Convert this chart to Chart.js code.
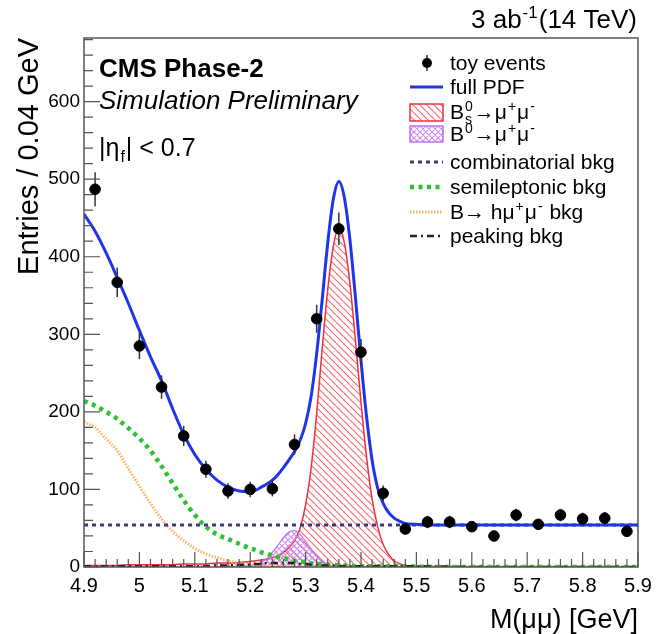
<!DOCTYPE html>
<html>
<head>
<meta charset="utf-8">
<script src="https://cdn.jsdelivr.net/npm/chart.js@4/dist/chart.umd.min.js"></script>
<style>
  html, body { margin: 0; padding: 0; background: #fff; }
  #plot { display: block; }
</style>
</head>
<body>
<canvas id="plot" width="663" height="634"></canvas>
<script>
// ── Daten ────────────────────────────────────────────────────────────────────

// Toy-Events: Bin-Mitten (Bins 0.04 GeV) und Eintraege
const eventMass = [4.92, 4.96, 5.00, 5.04, 5.08, 5.12, 5.16, 5.20, 5.24, 5.28, 5.32, 5.36, 5.40,
                   5.44, 5.48, 5.52, 5.56, 5.60, 5.64, 5.68, 5.72, 5.76, 5.80, 5.84, 5.88];
const eventCounts = [487, 367, 285, 232, 169, 126, 98, 100, 101, 158, 320, 436, 277,
                     95, 49, 58, 58, 52, 40, 67, 55, 67, 62, 63, 46];
const eventErrors = [22, 19, 17, 15, 13, 11, 10, 10, 10, 13, 18, 21, 17,
                     10, 7, 8, 8, 7, 6, 8, 7, 8, 8, 8, 7];

// Stuetzstellen der PDF-Kurven
const massGrid = [4.90, 4.92, 4.94, 4.96, 4.98, 5.00, 5.02, 5.04, 5.06, 5.08, 5.10, 5.12, 5.14, 5.16, 5.18, 5.20,
                  5.21, 5.22, 5.23, 5.24, 5.25, 5.26, 5.27, 5.28, 5.29, 5.30, 5.31, 5.32, 5.33, 5.34,
                  5.35, 5.36, 5.37, 5.38, 5.39, 5.40, 5.41, 5.42, 5.43, 5.44, 5.45, 5.46, 5.47, 5.48,
                  5.50, 5.55, 5.60, 5.70, 5.80, 5.90];

const fullPdf = [455, 433, 405, 373, 340, 305, 271, 240, 204, 171, 145, 126, 112, 103, 98, 97,
                 99, 103, 107, 112, 119, 128, 138, 149, 163, 185, 220, 275, 345, 418,
                 474, 497, 476, 422, 347, 266, 194, 138, 102, 82, 70, 63, 59, 56,
                 55, 54, 54, 54, 54, 54];

const bsSignal = [2, 2, 2, 2, 3, 3, 3, 3, 3, 4, 4, 4, 5, 5, 6, 7,
                  8, 9, 10, 12, 15, 19, 25, 34, 50, 80, 128, 198, 282, 358,
                  413, 437, 418, 366, 292, 212, 142, 88, 52, 29, 16, 8, 4, 2,
                  1, 0, 0, 0, 0, 0];

const b0Signal = [0, 0, 0, 0, 0, 0, 0, 0, 0, 0, 0, 0, 0, 0.5, 1, 2,
                  3, 6, 11, 19, 28, 38, 45, 47, 42, 33, 23, 14, 7, 3,
                  1, 0, 0, 0, 0, 0, 0, 0, 0, 0, 0, 0, 0, 0,
                  0, 0, 0, 0, 0, 0];

const semileptonic = [214, 208, 200, 191, 179, 166, 150, 130, 108, 86, 67, 52, 42, 36, 30, 24,
                      22, 19, 17, 15, 13, 11, 10, 8, 7, 6, 5, 4, 4, 3,
                      3, 2, 2, 2, 1, 1, 1, 1, 1, 1, 1, 1, 1, 1,
                      0.5, 0, 0, 0, 0, 0];

const bToHmumu = [187, 180, 165, 150, 127, 104, 82, 62, 46, 34, 24, 17, 12, 8, 5, 3,
                  3, 2, 2, 1, 1, 1, 0, 0, 0, 0, 0, 0, 0, 0,
                  0, 0, 0, 0, 0, 0, 0, 0, 0, 0, 0, 0, 0, 0,
                  0, 0, 0, 0, 0, 0];

const peakingBkg = [1, 1, 1, 1, 1, 1, 1, 1, 1, 1, 1, 1, 2, 2, 3, 3,
                    4, 4, 5, 5, 5, 5, 5, 5, 4, 4, 3, 3, 2, 2,
                    2, 1, 1, 1, 1, 1, 1, 1, 1, 1, 1, 1, 1, 1,
                    1, 0.5, 0, 0, 0, 0];

const combMass = [4.90, 5.90];
const combLevel = [54, 54];

// ── Stil ─────────────────────────────────────────────────────────────────────

const FONT = "'Liberation Sans', Arial, Helvetica, sans-serif";
const C_BLUE = '#2036e6';
const C_RED = '#f0303c';
const C_RED_HATCH = '#f26a72';
const C_PURPLE = '#c070f0';
const C_PURPLE_HATCH = '#c98af5';
const C_NAVY = '#3b3b78';
const C_GREEN = '#30c030';
const C_ORANGE = '#f8b36a';
const C_FRAME = '#555';

function hatch(color, cross, step) {
  const c = document.createElement('canvas');
  c.width = c.height = step;
  const g = c.getContext('2d');
  g.strokeStyle = color;
  g.lineWidth = 1.1;
  g.beginPath();
  for (const k of [-step, 0, step]) {
    g.moveTo(k, 0); g.lineTo(k + step, step);          // "\"
    if (cross) { g.moveTo(k, step); g.lineTo(k + step, 0); } // "/"
  }
  g.stroke();
  return document.getElementById('plot').getContext('2d').createPattern(c, 'repeat');
}

const redPattern = hatch(C_RED_HATCH, false, 7);
const purplePattern = hatch(C_PURPLE_HATCH, true, 6);

const xy = (xs, ys) => xs.map((x, i) => ({ x, y: ys[i] }));

// Text mit Hoch-/Tiefstellung: parts = [{t}|{sup,sub}]
function rich(ctx, x, y, parts, size, draw = true) {
  let cx = x;
  for (const p of parts) {
    if (p.t !== undefined) {
      ctx.font = `${size}px ${FONT}`;
      if (draw) ctx.fillText(p.t, cx, y);
      cx += ctx.measureText(p.t).width;
    } else {
      ctx.font = `${Math.round(size * 0.65)}px ${FONT}`;
      let w = 0;
      if (p.sup) { if (draw) ctx.fillText(p.sup, cx + 1, y - size * 0.4); w = ctx.measureText(p.sup).width; }
      if (p.sub) { if (draw) ctx.fillText(p.sub, cx + 1, y + size * 0.25); w = Math.max(w, ctx.measureText(p.sub).width); }
      cx += w + 2;
    }
  }
  return cx - x;
}

// ── Plugins ──────────────────────────────────────────────────────────────────

// Fehlerbalken unter den Markern
const errorBars = {
  id: 'errorBars',
  beforeDatasetDraw(chart, args) {
    if (args.index !== 0) return;
    const { ctx, scales: { x, y } } = chart;
    ctx.save();
    ctx.strokeStyle = '#333';
    ctx.lineWidth = 1.5;
    eventMass.forEach((m, i) => {
      const px = x.getPixelForValue(m);
      ctx.beginPath();
      ctx.moveTo(px, y.getPixelForValue(eventCounts[i] - eventErrors[i]));
      ctx.lineTo(px, y.getPixelForValue(eventCounts[i] + eventErrors[i]));
      ctx.stroke();
    });
    ctx.restore();
  }
};

// ROOT-Rahmen mit nach innen zeigenden Ticks
const frame = {
  id: 'frame',
  afterDraw(chart) {
    const { ctx, chartArea: a, scales: { x, y } } = chart;
    ctx.save();
    ctx.strokeStyle = C_FRAME;
    ctx.lineWidth = 1.5;
    ctx.strokeRect(a.left, a.top, a.right - a.left, a.bottom - a.top);
    ctx.lineWidth = 1.2;
    ctx.beginPath();
    for (let i = 0; i <= 50; i++) {
      const px = x.getPixelForValue(4.9 + i * 0.02);
      const len = i % 5 === 0 ? 15 : 8;
      ctx.moveTo(px, a.bottom); ctx.lineTo(px, a.bottom - len);
    }
    for (let v = 0; v <= y.max; v += 20) {
      const py = y.getPixelForValue(v);
      const len = v % 100 === 0 ? 16 : 9;
      ctx.moveTo(a.left, py); ctx.lineTo(a.left + len, py);
    }
    ctx.stroke();
    ctx.restore();
  }
};

// Beschriftungen + Legende
const labels = {
  id: 'labels',
  afterDraw(chart) {
    const { ctx } = chart;
    ctx.save();
    ctx.fillStyle = '#000';
    ctx.textBaseline = 'alphabetic';

    // oben rechts
    const top = [{ t: '3 ab' }, { sup: '-1' }, { t: '(14 TeV)' }];
    const w = rich(ctx, 0, 0, top, 26, false);
    rich(ctx, 637 - w, 28, top, 26);

    ctx.font = `bold 26px ${FONT}`;
    ctx.fillText('CMS Phase-2', 99, 77);
    ctx.font = `italic 26px ${FONT}`;
    ctx.fillText('Simulation Preliminary', 99, 109);
    rich(ctx, 99, 156, [{ t: '|η' }, { sub: 'f' }, { t: '| < 0.7' }], 25);

    // Legende
    const sx0 = 410, sx1 = 443, tx = 450, fs = 21;
    const txt = (yc, parts) => rich(ctx, tx, yc + 7, parts, fs);
    const line = (yc, color, width, dash) => {
      ctx.save();
      ctx.strokeStyle = color; ctx.lineWidth = width; ctx.setLineDash(dash);
      ctx.beginPath(); ctx.moveTo(sx0, yc); ctx.lineTo(sx1, yc); ctx.stroke();
      ctx.restore();
    };

    ctx.strokeStyle = '#333'; ctx.lineWidth = 1.5;
    ctx.beginPath(); ctx.moveTo(427, 55); ctx.lineTo(427, 71); ctx.stroke();
    ctx.beginPath(); ctx.arc(427, 63, 5, 0, Math.PI * 2); ctx.fill();
    txt(63, [{ t: 'toy events' }]);

    line(87, C_BLUE, 3, []);
    txt(87, [{ t: 'full PDF' }]);

    ctx.fillStyle = redPattern; ctx.fillRect(sx0, 104, sx1 - sx0, 17);
    ctx.strokeStyle = C_RED; ctx.lineWidth = 1.5; ctx.strokeRect(sx0, 104, sx1 - sx0, 17);
    ctx.fillStyle = '#000';
    txt(112, [{ t: 'B' }, { sup: '0', sub: 's' }, { t: '→μ' }, { sup: '+' }, { t: 'μ' }, { sup: '-' }]);

    ctx.fillStyle = purplePattern; ctx.fillRect(sx0, 126, sx1 - sx0, 16);
    ctx.strokeStyle = C_PURPLE; ctx.strokeRect(sx0, 126, sx1 - sx0, 16);
    ctx.fillStyle = '#000';
    txt(134, [{ t: 'B' }, { sup: '0' }, { t: '→μ' }, { sup: '+' }, { t: 'μ' }, { sup: '-' }]);

    line(162, C_NAVY, 3, [4, 4]);
    txt(162, [{ t: 'combinatorial bkg' }]);
    line(187, C_GREEN, 4.5, [4, 4.5]);
    txt(187, [{ t: 'semileptonic bkg' }]);
    line(212, C_ORANGE, 3, [1.5, 1.5]);
    txt(212, [{ t: 'B→ hμ' }, { sup: '+' }, { t: 'μ' }, { sup: '-' }, { t: ' bkg' }]);
    line(236, '#222', 2.5, [7, 4, 2, 4]);
    txt(236, [{ t: 'peaking bkg' }]);

    ctx.restore();
  }
};

// ── Chart ────────────────────────────────────────────────────────────────────

const curve = (label, ys, color, width, dash, order, extra) => Object.assign({
  label,
  data: xy(massGrid, ys),
  borderColor: color,
  borderWidth: width,
  borderDash: dash,
  pointRadius: 0,
  cubicInterpolationMode: 'monotone',
  fill: false,
  order
}, extra || {});

new Chart(document.getElementById('plot'), {
  type: 'line',
  data: {
    datasets: [
      {
        label: 'toy events',
        data: xy(eventMass, eventCounts),
        showLine: false,
        pointRadius: 5.3,
        pointBackgroundColor: '#000',
        pointBorderColor: '#000',
        order: 0
      },
      curve('full PDF', fullPdf, C_BLUE, 3, [], 1),
      curve('Bs', bsSignal, C_RED, 1.5, [], 8, { backgroundColor: redPattern, fill: 'origin' }),
      curve('B0', b0Signal, C_PURPLE, 1.2, [], 7, { backgroundColor: purplePattern, fill: 'origin' }),
      {
        label: 'combinatorial bkg',
        data: xy(combMass, combLevel),
        borderColor: C_NAVY, borderWidth: 3, borderDash: [4, 4],
        pointRadius: 0, fill: false, order: 3
      },
      curve('semileptonic bkg', semileptonic, C_GREEN, 4.5, [4, 4.5], 4),
      curve('B->hmumu bkg', bToHmumu, C_ORANGE, 3, [1.5, 1.5], 5),
      curve('peaking bkg', peakingBkg, '#222', 2.5, [7, 4, 2, 4], 2)
    ]
  },
  options: {
    responsive: false,
    animation: false,
    layout: { padding: { left: 0, right: 25, top: 38, bottom: 0 } },
    plugins: { legend: { display: false }, tooltip: { enabled: false } },
    scales: {
      x: {
        type: 'linear', min: 4.9, max: 5.9,
        grid: { display: false, drawTicks: false },
        border: { display: false },
        ticks: {
          stepSize: 0.1, padding: 7, color: '#000', maxRotation: 0,
          font: { family: FONT, size: 20 },
          callback: v => String(+v.toFixed(1))
        },
        title: {
          display: true, text: 'M(μμ) [GeV]', align: 'end', color: '#000',
          font: { family: FONT, size: 27, lineHeight: 1 }, padding: { top: 0, bottom: 0 }
        },
        afterFit(s) { s.height = 67; }
      },
      y: {
        min: 0, max: 682,
        grid: { display: false, drawTicks: false },
        border: { display: false },
        ticks: {
          stepSize: 100, includeBounds: false, padding: 4, color: '#000',
          font: { family: FONT, size: 19 }
        },
        title: {
          display: true, text: 'Entries / 0.04 GeV', align: 'end', color: '#000',
          font: { family: FONT, size: 29, lineHeight: 1 }, padding: { top: 15, bottom: 0 }
        },
        afterFit(s) { s.width = 84; }
      }
    }
  },
  plugins: [errorBars, frame, labels]
});
</script>
</body>
</html>
